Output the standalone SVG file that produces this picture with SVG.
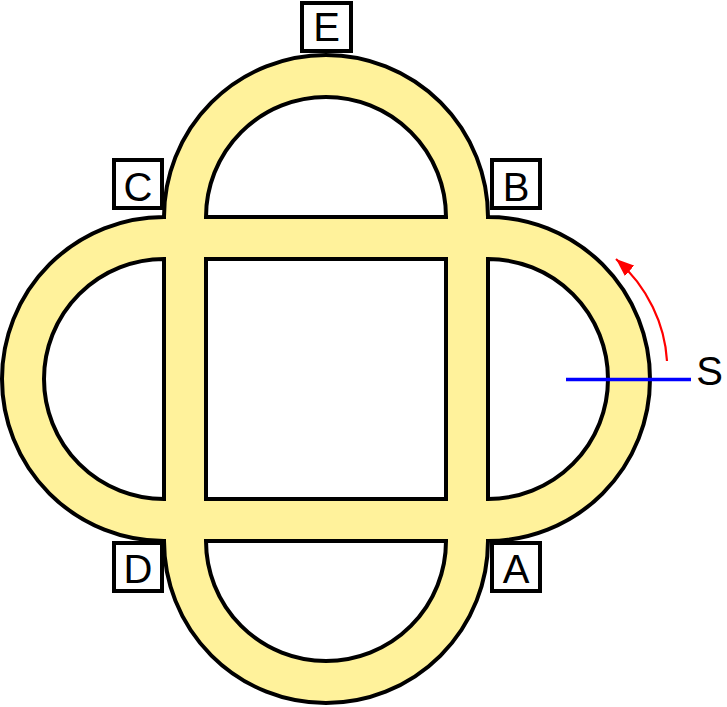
<svg xmlns="http://www.w3.org/2000/svg" width="727" height="707" viewBox="0 0 727 707">
<style>
.band{fill:#fff29b;stroke:#000;stroke-width:4;fill-rule:evenodd;stroke-linejoin:miter}
.box{fill:#fff;stroke:#000;stroke-width:4}
.lbl{font-family:"Liberation Sans",Arial,sans-serif;font-size:40px;fill:#000;text-anchor:middle}
</style>
<defs>
<marker id="ah" markerUnits="userSpaceOnUse" viewBox="0 0 18 14" markerWidth="18" markerHeight="14" refX="18" refY="7" orient="auto">
<path d="M0,0 L18,7 L0,14 Z" fill="#ff0000"/>
</marker>
</defs>
<g id="track">
<path class="band" d="M164,217 A162,162 0 0 1 488,217 A162,162 0 0 1 488,541 A162,162 0 0 1 164,541 A162,162 0 0 1 164,217 Z
M206,259 H446 V499 H206 Z
M206,217 A120,120 0 0 1 446,217 Z
M488,259 A120,120 0 0 1 488,499 Z
M446,541 A120,120 0 0 1 206,541 Z
M164,499 A120,120 0 0 1 164,259 Z"/>
</g>
<g id="connectors">
<line x1="566" y1="379.5" x2="691" y2="379.5" stroke="#0000ff" stroke-width="3.5"/>
<path d="M667,361 C665,325 648,287 616,259" fill="none" stroke="#ff0000" stroke-width="2.2" marker-end="url(#ah)"/>
</g>
<g id="nodeE"><rect class="box" x="302" y="3" width="49" height="48"/><text class="lbl" x="326.5" y="41">E</text></g>
<g id="nodeC"><rect class="box" x="114" y="160" width="48" height="48"/><text class="lbl" x="138" y="201">C</text></g>
<g id="nodeB"><rect class="box" x="492" y="160" width="48" height="48"/><text class="lbl" x="516" y="201">B</text></g>
<g id="nodeD"><rect class="box" x="114" y="543" width="48" height="48"/><text class="lbl" x="138" y="583">D</text></g>
<g id="nodeA"><rect class="box" x="492" y="543" width="48" height="48"/><text class="lbl" x="516" y="583">A</text></g>
<g id="nodeS"><text class="lbl" x="723" y="385" style="text-anchor:end">S</text></g>
</svg>
